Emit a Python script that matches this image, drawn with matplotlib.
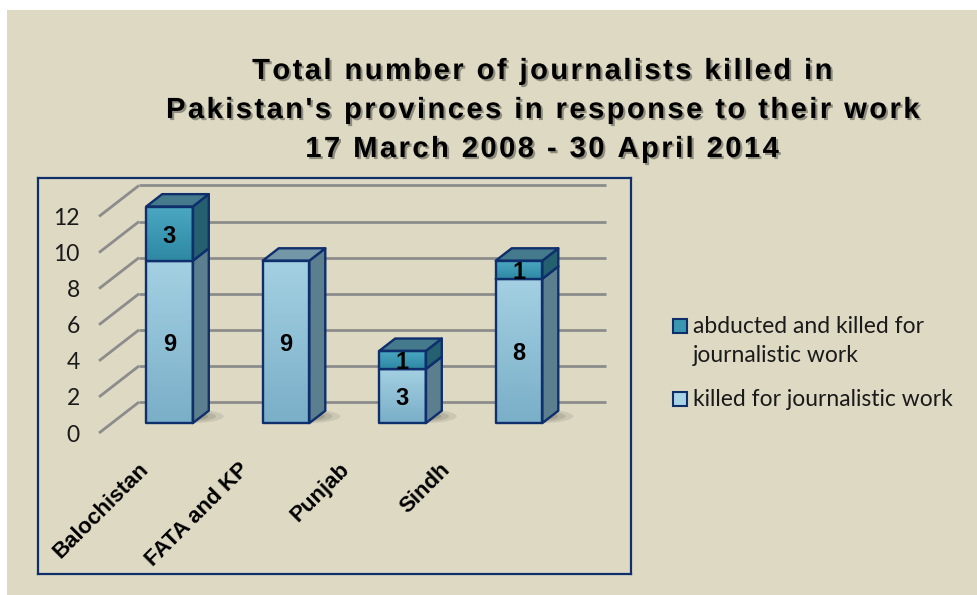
import numpy as np
import matplotlib
matplotlib.use("Agg")
import matplotlib.pyplot as plt
from matplotlib.patches import Polygon, Rectangle, Ellipse
from matplotlib import patheffects as pe

# data
provinces = ["Balochistan", "FATA and KP", "Punjab", "Sindh"]
killed = [9, 9, 3, 8]
abducted = [3, 0, 1, 1]
y_ticks = [0, 2, 4, 6, 8, 10, 12]
series_names = ["abducted and killed for\njournalistic work", "killed for journalistic work"]
title_lines = ["Total number of journalists killed in",
               "Pakistan's provinces in response to their work",
               "17 March 2008 - 30 April 2014"]

BEIGE = "#DDD9C3"
NAVY = "#0E2E6C"
GRID = "#8C8C8C"

# depth projection (data units)
DX, DY = 0.343, 1.717
D0, D1 = 0.32, 0.72
HW = 0.2


def proj(x, y, d):
    return (x + d * DX, y + d * DY)


fig = plt.figure(figsize=(9.78, 5.95), dpi=100, facecolor="white")
fig.patches.append(Rectangle((7 / 978, 0), 1, 1 - 10 / 595, transform=fig.transFigure,
                             facecolor=BEIGE, edgecolor="none", zorder=-10))

ax = fig.add_axes([38 / 978, 1 - 574 / 595, 593 / 978, 396 / 595])
ax.set_facecolor(BEIGE)
for s in ax.spines.values():
    s.set_color(NAVY)
    s.set_linewidth(1.6)
ax.set_xticks([])
ax.set_yticks([])
XL, YL = (-1.019, 4.071), (-7.81, 14.13)

# walls / gridlines
wx0, wx1 = -0.495, 3.51
for v in y_ticks:
    p0, p1 = proj(wx0, v, 0), proj(wx0, v, 1)
    ax.plot([p0[0], p1[0]], [p0[1], p1[1]], color=GRID, lw=2, solid_capstyle="butt", zorder=1)
    q1 = proj(wx1, v, 1)
    ax.plot([p1[0], q1[0]], [p1[1], q1[1]], color=GRID, lw=2, solid_capstyle="butt", zorder=1)
    ax.text(-0.66, v - 0.47, str(v), ha="right", va="baseline", fontsize=16.5,
            family="Lato", color="#1a1a1a")


def grad_face(x0, x1, y0, y1, c_top, c_bot, z):
    rect = Rectangle((x0, y0), x1 - x0, y1 - y0, facecolor="none", edgecolor=NAVY,
                     lw=1.7, zorder=z + 0.2, joinstyle="round")
    ax.add_patch(rect)
    cmap = matplotlib.colors.LinearSegmentedColormap.from_list("g", [c_bot, c_top])
    g = np.linspace(0, 1, 64).reshape(-1, 1)
    im = ax.imshow(g, extent=(x0, x1, y0, y1), origin="lower", cmap=cmap,
                   aspect="auto", zorder=z, interpolation="bilinear")
    im.set_clip_path(rect)


def segment(i, y0, y1, front_top, front_bot, side, top, z):
    xa, xb = i - HW, i + HW
    fx0, fy0 = proj(xa, y0, D0)
    fx1, fy1 = proj(xb, y1, D0)
    grad_face(fx0, fx1, fy0, fy1, front_top, front_bot, z)
    side_pts = [proj(xb, y0, D0), proj(xb, y0, D1), proj(xb, y1, D1), proj(xb, y1, D0)]
    ax.add_patch(Polygon(side_pts, closed=True, facecolor=side, edgecolor=NAVY,
                         lw=1.7, zorder=z + 0.1, joinstyle="round"))
    top_pts = [proj(xa, y1, D0), proj(xa, y1, D1), proj(xb, y1, D1), proj(xb, y1, D0)]
    ax.add_patch(Polygon(top_pts, closed=True, facecolor=top, edgecolor=NAVY,
                         lw=1.7, zorder=z + 0.1, joinstyle="round"))


for i, (k, a) in enumerate(zip(killed, abducted)):
    z = 3 + i * 2
    # soft shadow on floor
    for sc, al in [(1.0, 0.10), (0.8, 0.12), (0.6, 0.15)]:
        c = proj(i + 0.06, 0, (D0 + D1) / 2 + 0.02)
        ax.add_patch(Ellipse(c, 0.66 * sc, 0.8 * sc, facecolor="#2a2a20",
                             edgecolor="none", alpha=al, zorder=2))
    segment(i, 0, k, "#A4D0E2", "#7AAFC8", "#5B7F8E", "#7397A7", z)
    lx, ly = proj(i, k / 2, D0)
    ax.text(lx, ly - 0.5, str(k), ha="center", va="baseline", fontsize=17,
            fontweight="bold", family="Liberation Sans", color="black", zorder=z + 1.5)
    if a > 0:
        segment(i, k, k + a, "#4CA8C2", "#2E88A4", "#24606F", "#45798C", z + 1)
        lx, ly = proj(i, k + a / 2, D0)
        ax.text(lx, ly - 0.5, str(a), ha="center", va="baseline", fontsize=17,
                fontweight="bold", family="Liberation Sans", color="black", zorder=z + 1.8)

# category labels
for i, name in enumerate(provinces):
    ax.text(-0.092 + 0.861 * i, -1.83, name, rotation=45, rotation_mode="anchor",
            ha="right", va="center", fontsize=16, fontweight="bold",
            family="Liberation Sans", color="black", zorder=20)

ax.set_xlim(XL)
ax.set_ylim(YL)

# title, spaced out letters
HAIR = "\u200a"
spaced = "\n".join(HAIR.join(line) for line in title_lines)
fig.text(541 / 978, 1 - 110 / 595, spaced, ha="center", va="center", fontsize=21,
         fontweight="bold", family=["Liberation Sans", "DejaVu Sans"], linespacing=1.5,
         color="black",
         path_effects=[pe.withSimplePatchShadow(offset=(1.5, -1.5), alpha=0.35)])

# legend
leg_colors = ["#3A97B1", "#A8D4E6"]
leg_y = [326, 399]
for col, yy in zip(leg_colors, leg_y):
    fig.patches.append(Rectangle((673 / 978, 1 - (yy + 7) / 595), 14 / 978, 14 / 595,
                                 transform=fig.transFigure, facecolor=col,
                                 edgecolor=NAVY, lw=1.5))
lines = series_names[0].split("\n")
fig.text(693 / 978, 1 - 333 / 595, lines[0], ha="left", va="baseline", fontsize=16.5,
         family="Lato", color="#1a1a1a")
fig.text(693 / 978, 1 - 362 / 595, lines[1], ha="left", va="baseline", fontsize=16.5,
         family="Lato", color="#1a1a1a")
fig.text(693 / 978, 1 - 406 / 595, series_names[1], ha="left", va="baseline", fontsize=16.5,
         family="Lato", color="#1a1a1a")

fig.savefig("out.png", dpi=100, facecolor=fig.get_facecolor())
